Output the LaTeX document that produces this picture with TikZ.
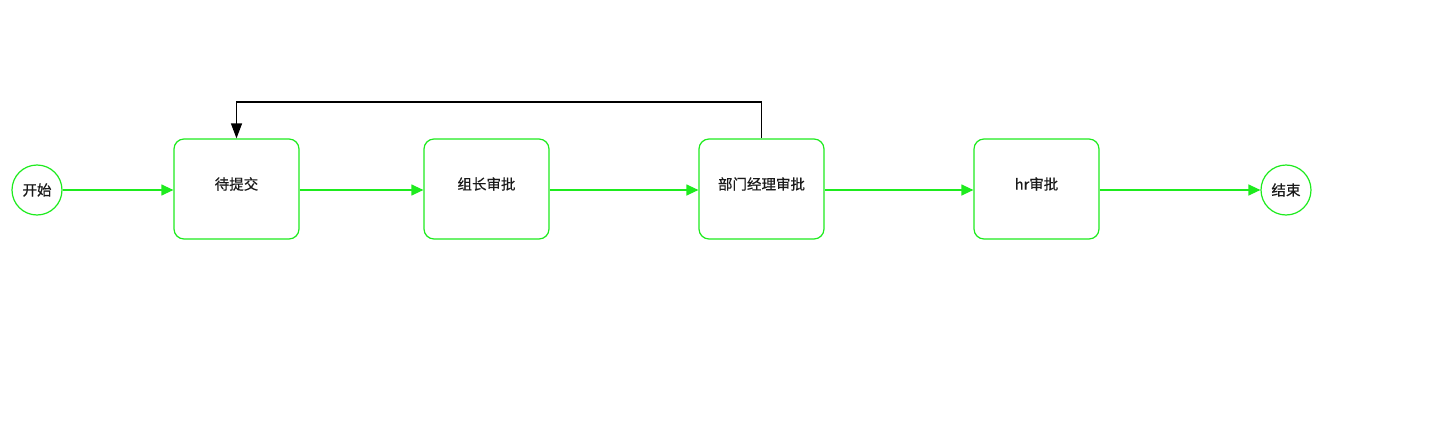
\documentclass[tikz,border=0pt]{standalone}
\usepackage{fontspec}
\newfontfamily\cjk[FakeBold=0.6]{Noto Sans CJK SC}
\usetikzlibrary{arrows.meta}
\definecolor{lg}{HTML}{1EEB1E}
\begin{document}
\begin{tikzpicture}[x=1pt,y=-1pt,
  state/.style={draw=lg,line width=1.2pt,rounded corners=10pt,minimum width=125pt,minimum height=100pt,inner sep=0pt,fill=white},
  term/.style={draw=lg,line width=1.2pt,circle,minimum size=50pt,inner sep=0pt,fill=white},
  lab/.style={font=\cjk\fontsize{14.5}{16}\selectfont,text=black!90},
  flow/.style={draw=lg,line width=1.2pt,-{Triangle[length=12pt,width=11pt,fill=lg]}},
  back/.style={draw=black,line width=1.2pt,-{Triangle[length=15pt,width=11pt,fill=black]}}]
\useasboundingbox (0,0) rectangle (1454,428);
\node[term] (s) at (37,190) {};
\node[lab] at (37,190) {开始};
\node[state] (a) at (236.5,189) {};
\node[lab] at (236.5,184) {待提交};
\node[state] (b) at (486.5,189) {};
\node[lab] at (486.5,184) {组长审批};
\node[state] (c) at (761.5,189) {};
\node[lab] at (761.5,184) {部门经理审批};
\node[state] (d) at (1036.5,189) {};
\node[lab] at (1036.5,184) {hr审批};
\node[term] (e) at (1286,190) {};
\node[lab] at (1286,190) {结束};
\draw[flow] (s) -- (a.west|-s);
\draw[flow] (a.east|-s) -- (b.west|-s);
\draw[flow] (b.east|-s) -- (c.west|-s);
\draw[flow] (c.east|-s) -- (d.west|-s);
\draw[flow] (d.east|-s) -- (e);
\coordinate (t1) at (761.5,102);
\coordinate (t2) at (236.5,102);
\draw[back] (c.north) -- (t1) -- (t2) -- (a.north);
\end{tikzpicture}
\end{document}
